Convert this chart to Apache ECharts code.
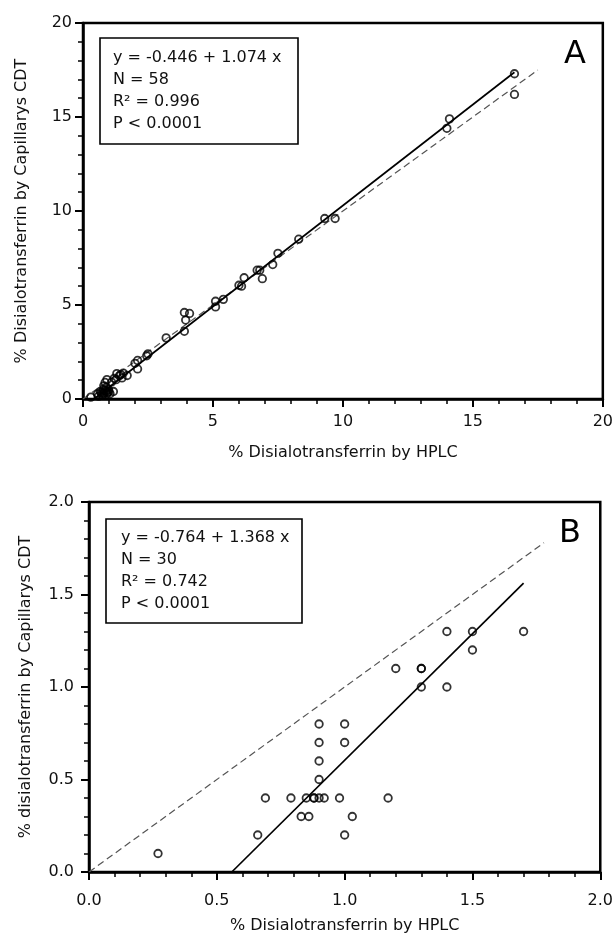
<!DOCTYPE html>
<html>
<head>
<meta charset="utf-8">
<script src="https://cdn.jsdelivr.net/npm/echarts@6/dist/echarts.min.js"></script>
<style>
  html, body { margin: 0; padding: 0; background: #fff; }
  #main { width: 616px; height: 935px; }
</style>
</head>
<body>
<div id="main"></div>
<script>
// panel A: HPLC (x) vs Capillarys CDT (y), all samples
var pointsA = [
    [16.6, 17.3], [16.6, 16.2], [14.1, 14.9], [14.0, 14.4], [9.3, 9.6], [9.7, 9.6], [8.3, 8.5],
    [7.5, 7.75], [7.3, 7.15], [6.7, 6.85], [6.8, 6.85], [6.9, 6.4], [6.2, 6.45], [6.0, 6.05],
    [6.1, 6.0], [5.4, 5.3], [5.1, 5.2], [5.1, 4.9], [3.9, 4.6], [4.1, 4.55], [3.95, 4.2],
    [3.9, 3.6], [3.2, 3.25],
    [2.5, 2.4], [2.45, 2.3], [2.1, 2.05], [2.0, 1.9], [2.1, 1.6], [1.7, 1.25], [1.55, 1.38],
    [1.5, 1.12], [1.4, 1.24], [1.27, 1.03], [1.3, 1.35], [0.92, 1.03], [0.85, 0.88], [0.66, 0.4],
    [0.79, 0.5], [0.98, 0.5], [1.17, 0.4], [0.92, 0.28], [1.04, 0.28], [0.73, 0.28], [0.56, 0.27],
    [0.3, 0.1], [0.89, 0.4],
    [0.7, 0.35], [0.8, 0.3], [0.9, 0.6], [0.95, 0.35], [0.85, 0.45], [0.75, 0.2], [1.0, 0.4],
    [0.6, 0.15], [1.2, 1.1], [1.45, 1.3], [0.8, 0.7], [1.1, 0.9]
];
var fitA = [[0.42, 0], [16.6, 17.38]];
var identityA = [[0, 0], [17.5, 17.5]];
var statsA = ['y = -0.446 + 1.074 x', 'N = 58', 'R² = 0.996', 'P < 0.0001'];
var ticksA = ['0', '5', '10', '15', '20'];

// panel B: low range samples
var pointsB = [
    [0.27, 0.1], [0.66, 0.2], [0.69, 0.4], [0.79, 0.4], [0.83, 0.3], [0.86, 0.3], [0.85, 0.4],
    [0.88, 0.4], [0.90, 0.4], [0.92, 0.4], [0.90, 0.8], [0.90, 0.7], [0.90, 0.6], [0.90, 0.5],
    [1.0, 0.8], [1.0, 0.7], [0.98, 0.4], [1.17, 0.4], [1.03, 0.3], [1.0, 0.2], [1.3, 1.0],
    [1.4, 1.0], [1.4, 1.3], [1.5, 1.3], [1.7, 1.3], [1.5, 1.2], [1.2, 1.1], [1.3, 1.1],
    [0.88, 0.4], [1.3, 1.1]
];
var fitB = [[0.5585, 0], [1.7, 1.5616]];
var identityB = [[0, 0], [1.78, 1.78]];
var statsB = ['y = -0.764 + 1.368 x', 'N = 30', 'R² = 0.742', 'P < 0.0001'];
var ticksB = ['0.0', '0.5', '1.0', '1.5', '2.0'];

var FONT = '"DejaVu Sans", sans-serif';

var myChart = echarts.init(document.getElementById('main'));

function makeAxis(idx, max, interval, ticks, name, opts) {
    return {
        type: 'value',
        gridIndex: idx,
        min: 0,
        max: max,
        interval: interval,
        name: name,
        nameLocation: 'middle',
        nameGap: opts.nameGap,
        nameTextStyle: {fontFamily: FONT, fontSize: 16, color: '#111'},
        axisLine: {show: true, onZero: false, lineStyle: {color: '#000', width: 2.5}},
        axisTick: {show: true, inside: false, length: 8, lineStyle: {color: '#000', width: 2}},
        minorTick: {show: true, splitNumber: 5, length: 5, lineStyle: {color: '#000', width: 1.5}},
        splitLine: {show: false},
        axisLabel: {
            margin: opts.margin,
            fontFamily: FONT,
            fontSize: 16,
            color: '#111',
            formatter: function (v, i) { return ticks[i]; }
        }
    };
}

function scatter(idx, data) {
    return {
        type: 'scatter',
        xAxisIndex: idx,
        yAxisIndex: idx,
        data: data,
        symbol: 'circle',
        symbolSize: 7.5,
        z: 5,
        itemStyle: {color: 'rgba(0,0,0,0)', borderColor: '#000', borderWidth: 1.8}
    };
}

function line(idx, data, dashed) {
    return {
        type: 'line',
        xAxisIndex: idx,
        yAxisIndex: idx,
        data: data,
        symbol: 'none',
        z: 3,
        lineStyle: dashed ? {color: '#555', width: 1.2, type: [7, 4]} : {color: '#000', width: 1.7}
    };
}

function statText(lines, left, top) {
    return lines.map(function (s, i) {
        return {
            type: 'text',
            left: left,
            top: top + i * 21.8,
            z: 11,
            style: {text: s, font: '16px ' + FONT, fill: '#111'}
        };
    });
}

myChart.setOption({
    animation: false,
    grid: [
        {left: 83, top: 23, width: 522, height: 376, show: true, borderColor: '#000', borderWidth: 2.5},
        {left: 89, top: 502, width: 512, height: 371, show: true, borderColor: '#000', borderWidth: 2.5}
    ],
    xAxis: [
        makeAxis(0, 20, 5, ticksA, '% Disialotransferrin by HPLC', {nameGap: 46, margin: 15}),
        makeAxis(1, 2, 0.5, ticksB, '% Disialotransferrin by HPLC', {nameGap: 46, margin: 21})
    ],
    yAxis: [
        makeAxis(0, 20, 5, ticksA, '% Disialotransferrin by Capillarys CDT', {nameGap: 53, margin: 11}),
        makeAxis(1, 2, 0.5, ticksB, '% disialotransferrin by Capillarys CDT', {nameGap: 55, margin: 15})
    ],
    series: [
        line(0, identityA, true),
        line(0, fitA, false),
        scatter(0, pointsA),
        line(1, identityB, true),
        line(1, fitB, false),
        scatter(1, pointsB)
    ],
    graphic: [
        {type: 'rect', shape: {x: 100, y: 38, width: 198, height: 106},
            style: {fill: '#fff', stroke: '#000', lineWidth: 1.6}, z: 10},
        {type: 'rect', shape: {x: 106, y: 519, width: 196, height: 104},
            style: {fill: '#fff', stroke: '#000', lineWidth: 1.6}, z: 10},
        {type: 'text', left: 564, top: 39, z: 10,
            style: {text: 'A', font: '32px ' + FONT, fill: '#000'}},
        {type: 'text', left: 559, top: 518, z: 10,
            style: {text: 'B', font: '32px ' + FONT, fill: '#000'}}
    ].concat(statText(statsA, 113, 50)).concat(statText(statsB, 121, 530))
});
</script>
</body>
</html>
